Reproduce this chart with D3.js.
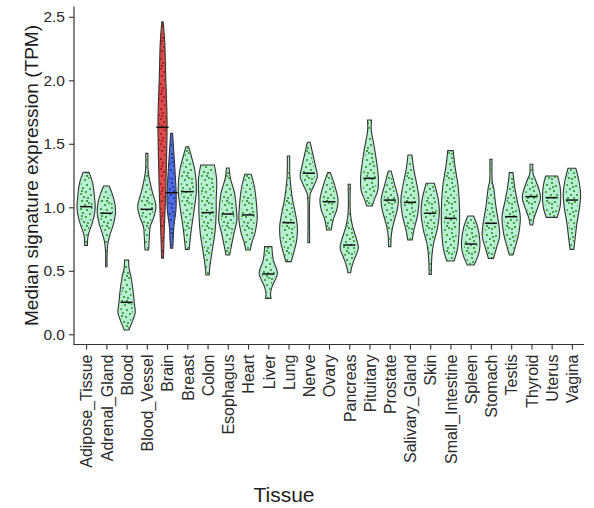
<!DOCTYPE html>
<html>
<head>
<meta charset="utf-8">
<script src="https://cdn.jsdelivr.net/npm/d3@7"></script>
<style>
  html, body { margin: 0; padding: 0; background: #fff; }
  svg { display: block; font-family: "Liberation Sans", Arial, sans-serif; }
</style>
</head>
<body>
<svg id="chart" width="594" height="508"></svg>
<script>
// Tissues along the x axis
const tissues = ["Adipose_Tissue", "Adrenal_Gland", "Blood", "Blood_Vessel", "Brain", "Breast",
  "Colon", "Esophagus", "Heart", "Liver", "Lung", "Nerve", "Ovary", "Pancreas", "Pituitary",
  "Prostate", "Salivary_Gland", "Skin", "Small_Intestine", "Spleen", "Stomach", "Testis",
  "Thyroid", "Uterus", "Vagina"];

// Median signature expression per tissue (Brain is split into two groups below)
const medians = [1.005, 0.953, 0.252, 0.984, null, 1.123, 0.958, 0.947, 0.94, 0.475, 0.879,
  1.268, 1.044, 0.703, 1.228, 1.057, 1.039, 0.953, 0.913, 0.711, 0.874, 0.926, 1.084, 1.076, 1.057];

// Violin outlines: [expression, relative density] from the top of the range to the bottom
const profiles = [
  [[1.275,0.33],[1.19,0.72],[1.06,0.95],[1.0,1.0],[0.95,0.93],[0.87,0.65],[0.795,0.28],[0.756,0.18],[0.70,0.15]],
  [[1.168,0.3],[1.11,0.63],[1.03,0.93],[0.953,1.0],[0.874,0.8],[0.795,0.45],[0.73,0.2],[0.664,0.1],[0.532,0.08]],
  [[0.585,0.22],[0.52,0.27],[0.454,0.48],[0.35,0.7],[0.244,0.85],[0.17,0.95],[0.11,0.68],[0.034,0.25]],
  [[1.425,0.12],[1.3,0.13],[1.24,0.24],[1.136,0.55],[1.005,1.0],[0.926,0.78],[0.847,0.37],[0.768,0.28],[0.69,0.22],[0.664,0.2]],
  null,
  [[1.477,0.15],[1.40,0.45],[1.29,0.83],[1.136,1.0],[0.98,0.75],[0.82,0.43],[0.669,0.2]],
  [[1.333,0.75],[1.215,1.0],[1.057,0.95],[0.953,0.95],[0.795,0.8],[0.664,0.52],[0.53,0.25],[0.467,0.18]],
  [[1.31,0.15],[1.23,0.28],[1.11,0.75],[0.979,0.95],[0.9,1.0],[0.795,0.68],[0.69,0.38],[0.624,0.2]],
  [[1.26,0.35],[1.16,0.7],[1.005,0.95],[0.9,1.0],[0.795,0.75],[0.717,0.4],[0.664,0.25]],
  [[0.69,0.4],[0.585,0.55],[0.48,1.0],[0.375,0.42],[0.323,0.25],[0.283,0.3]],
  [[1.404,0.13],[1.25,0.15],[1.16,0.26],[1.057,0.45],[0.953,0.75],[0.847,0.97],[0.742,0.9],[0.638,0.55],[0.572,0.3]],
  [[1.512,0.15],[1.425,0.43],[1.32,0.75],[1.24,0.95],[1.176,0.6],[1.11,0.18],[1.05,0.1],[0.721,0.1]],
  [[1.273,0.15],[1.19,0.55],[1.057,1.0],[0.979,0.85],[0.9,0.45],[0.821,0.25]],
  [[1.181,0.12],[0.95,0.13],[0.847,0.37],[0.742,0.83],[0.677,1.0],[0.598,0.6],[0.532,0.28],[0.485,0.15]],
  [[1.687,0.22],[1.608,0.2],[1.477,0.52],[1.372,0.75],[1.24,0.97],[1.136,0.92],[1.057,0.52],[1.01,0.3]],
  [[1.286,0.15],[1.19,0.5],[1.057,0.95],[0.979,0.82],[0.874,0.42],[0.795,0.2],[0.69,0.12]],
  [[1.412,0.22],[1.294,0.43],[1.162,0.8],[1.057,1.0],[0.926,0.8],[0.821,0.43],[0.743,0.25]],
  [[1.189,0.45],[1.057,0.9],[0.953,1.0],[0.821,0.75],[0.717,0.37],[0.611,0.18],[0.472,0.12]],
  [[1.446,0.3],[1.32,0.5],[1.162,0.85],[0.979,1.0],[0.795,0.95],[0.664,0.75],[0.577,0.4]],
  [[0.931,0.32],[0.847,0.75],[0.742,1.0],[0.664,0.97],[0.598,0.7],[0.546,0.37]],
  [[1.378,0.12],[1.2,0.15],[1.162,0.28],[1.005,0.55],[0.847,0.9],[0.768,0.95],[0.69,0.65],[0.598,0.28]],
  [[1.273,0.2],[1.162,0.38],[1.057,0.65],[0.926,1.0],[0.795,0.83],[0.69,0.46],[0.624,0.2]],
  [[1.339,0.15],[1.26,0.2],[1.215,0.45],[1.136,0.85],[1.071,1.0],[0.979,0.6],[0.913,0.28],[0.861,0.15]],
  [[1.246,0.65],[1.162,0.93],[1.084,1.0],[1.005,0.93],[0.921,0.6]],
  [[1.307,0.43],[1.215,0.75],[1.11,0.95],[1.005,0.85],[0.874,0.55],[0.742,0.33],[0.669,0.2]]
];

// Brain is drawn as two dodged groups
const brainGroups = ["high", "low"];
const brainMedians = [1.63, 1.115];
const brainProfiles = [
  [[2.46,0.15],[2.29,0.5],[2.03,0.7],[1.77,0.95],[1.63,1.0],[1.37,0.88],[1.11,0.7],[0.85,0.42],[0.6,0.2]],
  [[1.583,0.2],[1.45,0.45],[1.37,0.6],[1.25,0.8],[1.1,1.0],[0.98,0.95],[0.85,0.5],[0.75,0.35],[0.677,0.25]]
];

const yTicks = [0, 0.5, 1.0, 1.5, 2.0, 2.5];

const svg = d3.select("#chart");

// Panel geometry
const panel = { left: 74, right: 584, top: 6.5, bottom: 344.5 };

const x = d3.scalePoint().domain(tissues).range([86.1, 571.9]);
const y = d3.scaleLinear().domain([0, 2.5]).range([334.3, 16.8]);
const step = x.step();
const wFull = d3.scaleLinear().domain([0, 1]).range([0, 0.45 * step]);
const wHalf = d3.scaleLinear().domain([0, 1]).range([0, 0.225 * step]);

// Jittered sample points rendered as a speckle texture inside each violin
const speckle = [[2,1],[9,3],[15,2],[18,6],[5,5],[12,8],[1,9],[7,10],[16,11],[3,13],[10,14],
  [19,15],[14,16],[6,17],[1,19],[11,20],[17,20],[4,22],[8,23],[14,23],[19,24],[12,4],[7,1],[13,12],[2,16]];
const defs = svg.append("defs");
function makePattern(id, color) {
  const p = defs.append("pattern").attr("id", id).attr("patternUnits", "userSpaceOnUse")
    .attr("width", 20).attr("height", 25);
  p.selectAll("circle").data(speckle).join("circle")
    .attr("cx", d => d[0]).attr("cy", d => d[1]).attr("r", 1.1).attr("fill", color);
}
makePattern("dots-green", "#2e8f28");
makePattern("dots-red", "#951b1b");
makePattern("dots-blue", "#1f2d98");

function violinArea(cx, wScale, shrink) {
  return d3.area()
    .y(d => y(d[0]))
    .x0(d => cx - wScale(d[1]) * shrink)
    .x1(d => cx + wScale(d[1]) * shrink)
    .curve(d3.curveCatmullRom.alpha(0.5));
}

const gV = svg.append("g");

function drawViolin(profile, cx, wScale, fill, pattern, median) {
  gV.append("path").attr("d", violinArea(cx, wScale, 1)(profile))
    .attr("fill", fill).attr("stroke", "#333").attr("stroke-width", 1.1);
  gV.append("path").attr("d", violinArea(cx, wScale, 0.72)(profile))
    .attr("fill", `url(#${pattern})`).attr("stroke", "none");
  gV.append("line")
    .attr("x1", cx - 0.3 * step).attr("x2", cx + 0.3 * step)
    .attr("y1", y(median)).attr("y2", y(median))
    .attr("stroke", "#111").attr("stroke-width", 1.5);
}

tissues.forEach((t, i) => {
  if (profiles[i]) drawViolin(profiles[i], x(t), wFull, "#b6f0d0", "dots-green", medians[i]);
});

// Brain: two groups dodged around the tick
const brainFills = ["#dc4a4a", "#4f6ee2"];
const brainDots = ["dots-red", "dots-blue"];
brainGroups.forEach((g, k) => {
  const cx = x("Brain") + (k === 0 ? -0.225 : 0.225) * step;
  drawViolin(brainProfiles[k], cx, wHalf, brainFills[k], brainDots[k], brainMedians[k]);
});

// Axes
const yAxis = svg.append("g").attr("transform", `translate(${panel.left},0)`)
  .call(d3.axisLeft(y).tickValues(yTicks).tickFormat(d3.format(".1f")).tickSize(5).tickPadding(4));
yAxis.select(".domain").remove();
yAxis.selectAll(".tick line").attr("stroke", "#333").attr("stroke-width", 1.1);
yAxis.selectAll(".tick text").attr("fill", "#2b2b2b").style("font-size", "15.5px");

const xAxis = svg.append("g").attr("transform", `translate(0,${panel.bottom})`)
  .call(d3.axisBottom(x).tickSize(5).tickPadding(4));
xAxis.select(".domain").remove();
xAxis.selectAll(".tick line").attr("stroke", "#333").attr("stroke-width", 1.1);
xAxis.selectAll(".tick text")
  .attr("fill", "#2b2b2b").style("font-size", "16px")
  .attr("transform", "rotate(-90)")
  .attr("text-anchor", "end")
  .attr("x", -10).attr("y", 0).attr("dy", "0.36em");

svg.append("line").attr("x1", panel.left).attr("x2", panel.left)
  .attr("y1", panel.top).attr("y2", panel.bottom + 0.5)
  .attr("stroke", "#333").attr("stroke-width", 1.2);
svg.append("line").attr("x1", panel.left - 0.5).attr("x2", panel.right)
  .attr("y1", panel.bottom).attr("y2", panel.bottom)
  .attr("stroke", "#333").attr("stroke-width", 1.2);

// Axis titles
svg.append("text").attr("transform", "translate(38,175.5) rotate(-90)")
  .attr("text-anchor", "middle").attr("fill", "#1a1a1a").style("font-size", "19px")
  .text("Median signature expression (TPM)");
svg.append("text").attr("x", 284).attr("y", 501.5)
  .attr("text-anchor", "middle").attr("fill", "#231f20").style("font-size", "21px")
  .text("Tissue");
</script>
</body>
</html>
